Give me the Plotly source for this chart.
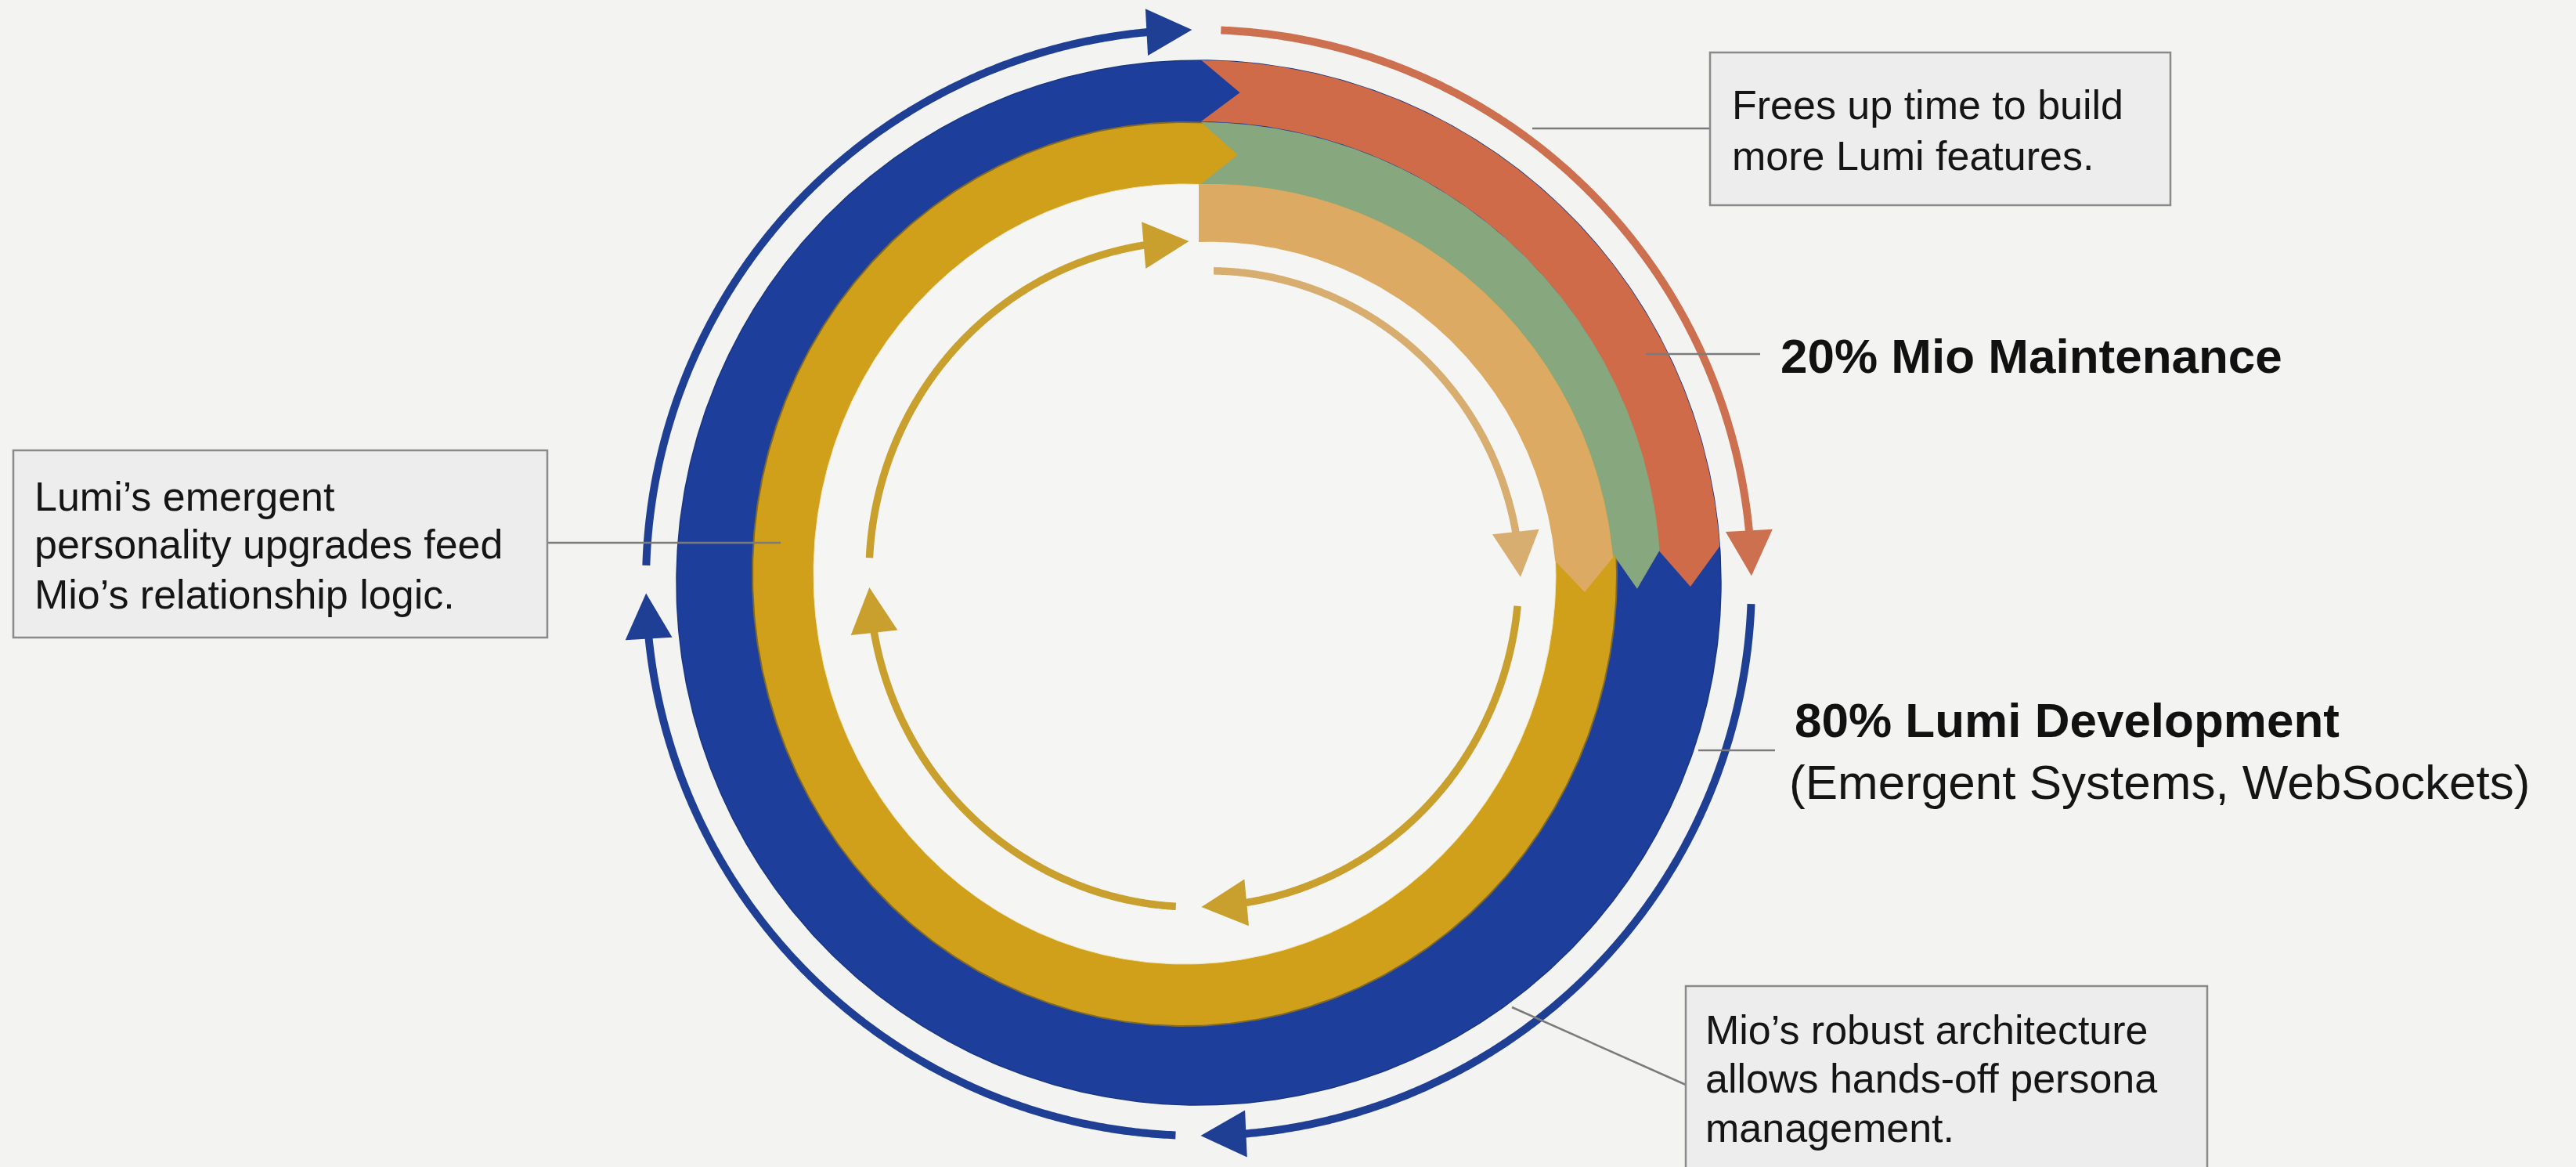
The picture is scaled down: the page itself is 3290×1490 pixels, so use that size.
import numpy as np
import plotly.graph_objects as go

# ---------------- data ----------------
shares = [20, 80]                                   # % of time
share_titles = ["Mio Maintenance", "Lumi Development"]
share_detail = "(Emergent Systems, WebSockets)"
note_top = ["Frees up time to build", "more Lumi features."]
note_left = ["Lumi’s emergent", "personality upgrades feed", "Mio’s relationship logic."]
note_bottom = ["Mio’s robust architecture", "allows hands-off persona", "management."]

# ---------------- geometry & style (pixel space of the picture) ----------------
W, H = 3290, 1490
BG = "#f3f3f2"
BLUE = "#1d3f9b"
GOLD = "#d1a01a"
ORANGE = "#cf6b48"
GREEN = "#87a77f"
LORANGE = "#dcaa62"
BLUE_T = "#1e3f94"
ORANGE_T = "#cc7050"
GOLD_T = "#c9a02e"
LORANGE_T = "#d8ad70"
FONT = "Liberation Sans, Arial, sans-serif"

C_OUT = (1531, 744)   # outer ring centre
C_IN = (1513, 733)    # gold ring centre
C_ARR = (1525, 733)   # inner arrows centre


def pts(c, rx, ry, th):
    t = np.radians(th)
    return c[0] + rx * np.cos(t), c[1] - ry * np.sin(t)


fig = go.Figure()


def poly(x, y, color, lw=0.0, lc=None):
    x = list(x) + [x[0]]
    y = list(y) + [y[0]]
    fig.add_trace(go.Scatter(x=x, y=y, mode="lines", fill="toself", fillcolor=color,
                             line=dict(color=lc or color, width=lw),
                             hoverinfo="skip", showlegend=False))


th_full = np.linspace(0, 360, 721)
# blue (80%) outer ring drawn as disk, gold ring over it, then the empty centre
bx, by = pts(C_OUT, 667, 667, th_full)
poly(bx, by, BLUE, 1.5, "#183682")
gx, gy = pts(C_IN, 552, 577, th_full)
poly(gx, gy, GOLD, 2.0, "#7f6a2c")
hx, hy = pts(C_IN, 474, 498, th_full)
poly(hx, hy, "#f5f5f4", 1.0, "#f0e6c0")

# 20% segment bands (start at 12 o'clock, run clockwise)
bands = [
    dict(color=ORANGE, th0=89.7, th1=4.0, rin=(589, 589), rout=(667, 667), notch=4.5, tip=4.45),
    dict(color=GREEN, th0=89.7, th1=4.0, rin=(509, 530), rout=(588, 590), notch=4.9, tip=4.8),
    dict(color=LORANGE, th0=90.0, th1=3.5, rin=(435, 456), rout=(509, 530), notch=0.0, tip=4.9),
]
for b in bands:
    ths = np.linspace(b["th0"], b["th1"], 240)
    f = (ths - b["th0"]) / (b["th1"] - b["th0"])
    rin = b["rin"][0] + (b["rin"][1] - b["rin"][0]) * f
    rout = b["rout"][0] + (b["rout"][1] - b["rout"][0]) * f
    xo, yo = pts(C_OUT, rout, rout, ths)
    rm1 = (b["rin"][1] + b["rout"][1]) / 2
    xt, yt = pts(C_OUT, rm1, rm1, b["th1"] - b["tip"])
    xi, yi = pts(C_OUT, rin[::-1], rin[::-1], ths[::-1])
    xs = list(xo) + [xt] + list(xi)
    ys = list(yo) + [yt] + list(yi)
    if b["notch"] > 0:
        rm0 = (b["rin"][0] + b["rout"][0]) / 2
        xn, yn = pts(C_OUT, rm0, rm0, b["th0"] - b["notch"])
        xs.append(xn)
        ys.append(yn)
    poly(xs, ys, b["color"])

# thin circulating arrows: (centre, r_start(rx,ry), r_end(rx,ry), theta_start, theta_tip, colour, width)
arrows = [
    (C_OUT, (706, 706), (706, 706), 178.2, 90.7, BLUE_T, 10),
    (C_OUT, (706, 706), (706, 706), 87.7, 0.7, ORANGE_T, 10),
    (C_OUT, (706, 706), (706, 706), -2.2, -89.8, BLUE_T, 10),
    (C_OUT, (706, 706), (706, 706), -92.4, -178.9, BLUE_T, 10),
    (C_ARR, (415, 425), (415, 425), 177.2, 90.9, GOLD_T, 9.5),
    (C_ARR, (388, 388), (417, 417), 86.3, -0.5, LORANGE_T, 9.5),
    (C_ARR, (415, 425), (415, 425), -5.5, -88.7, GOLD_T, 9.5),
    (C_ARR, (415, 425), (415, 425), -93.2, -177.7, GOLD_T, 9.5),
]
HEAD_L, HEAD_W = 58, 60
for c, r0, r1, t0, t1, col, lw in arrows:
    def rad(t):
        f = (t - t0) / (t1 - t0)
        return r0[0] + (r1[0] - r0[0]) * f, r0[1] + (r1[1] - r0[1]) * f
    rx1, ry1 = rad(t1)
    dth = np.degrees(HEAD_L / ((rx1 + ry1) / 2))
    tb = t1 + dth
    tl = np.linspace(t0, tb - 0.25 * dth, 300)
    rr = np.array([rad(t) for t in tl])
    lx, ly = pts(c, rr[:, 0], rr[:, 1], tl)
    fig.add_trace(go.Scatter(x=lx, y=ly, mode="lines", line=dict(color=col, width=lw, simplify=False),
                             hoverinfo="skip", showlegend=False))
    tx, ty = pts(c, rx1, ry1, t1)
    rbx, rby = rad(tb)
    bxc, byc = pts(c, rbx, rby, tb)
    d = np.array([tx - bxc, ty - byc])
    d = d / np.linalg.norm(d)
    n = np.array([-d[1], d[0]])
    bxc, byc = tx - d[0] * HEAD_L, ty - d[1] * HEAD_L
    poly([tx, bxc + n[0] * HEAD_W / 2, bxc - n[0] * HEAD_W / 2],
         [ty, byc + n[1] * HEAD_W / 2, byc - n[1] * HEAD_W / 2], col)

# ---------------- callouts ----------------
LINE_C = "#7b7b7b"
shapes = []
for (x0, y0, x1, y1) in [(1957, 164, 2184, 164), (2102, 452, 2248, 452), (2169, 958, 2267, 958),
                         (699, 693, 997, 693), (1931, 1286, 2153, 1385)]:
    shapes.append(dict(type="line", x0=x0, y0=y0, x1=x1, y1=y1, xref="x", yref="y",
                       line=dict(color=LINE_C, width=2.5)))
for (x0, y0, x1, y1) in [(2184, 67, 2772, 262), (17, 575, 699, 814), (2153, 1259, 2819, 1520)]:
    shapes.append(dict(type="rect", x0=x0, y0=y0, x1=x1, y1=y1, xref="x", yref="y",
                       fillcolor="#ededed", line=dict(color="#8a8a8a", width=2.5)))

annotations = []


def note(lines, x, ys, size=52):
    for t, y in zip(lines, ys):
        annotations.append(dict(x=x, y=y, xref="x", yref="y", text=t, showarrow=False,
                                xanchor="left", yanchor="middle",
                                font=dict(family=FONT, size=size, color="#151515")))


note(note_top, 2210, [134, 199])
note(note_left, 42, [634, 695, 759])
note(note_bottom, 2176, [1315, 1377, 1440])
annotations.append(dict(x=2272, y=454, xref="x", yref="y", showarrow=False, xanchor="left",
                        yanchor="middle", text=f"<b>{shares[0]}% {share_titles[0]}</b>",
                        font=dict(family=FONT, size=62, color="#111111")))
annotations.append(dict(x=2290, y=919, xref="x", yref="y", showarrow=False, xanchor="left",
                        yanchor="middle", text=f"<b>{shares[1]}% {share_titles[1]}</b>",
                        font=dict(family=FONT, size=62, color="#111111")))
annotations.append(dict(x=2283, y=998, xref="x", yref="y", showarrow=False, xanchor="left",
                        yanchor="middle", text=share_detail,
                        font=dict(family=FONT, size=62, color="#151515")))

fig.update_layout(
    width=W, height=H, margin=dict(l=0, r=0, t=0, b=0),
    paper_bgcolor=BG, plot_bgcolor=BG,
    xaxis=dict(range=[0, W], visible=False, fixedrange=True),
    yaxis=dict(range=[H, 0], visible=False, fixedrange=True),
    showlegend=False, shapes=shapes, annotations=annotations,
)

fig.write_html("out.html", config={"displayModeBar": False},
               post_script="document.body.style.margin='0';document.body.style.overflow='hidden';")
